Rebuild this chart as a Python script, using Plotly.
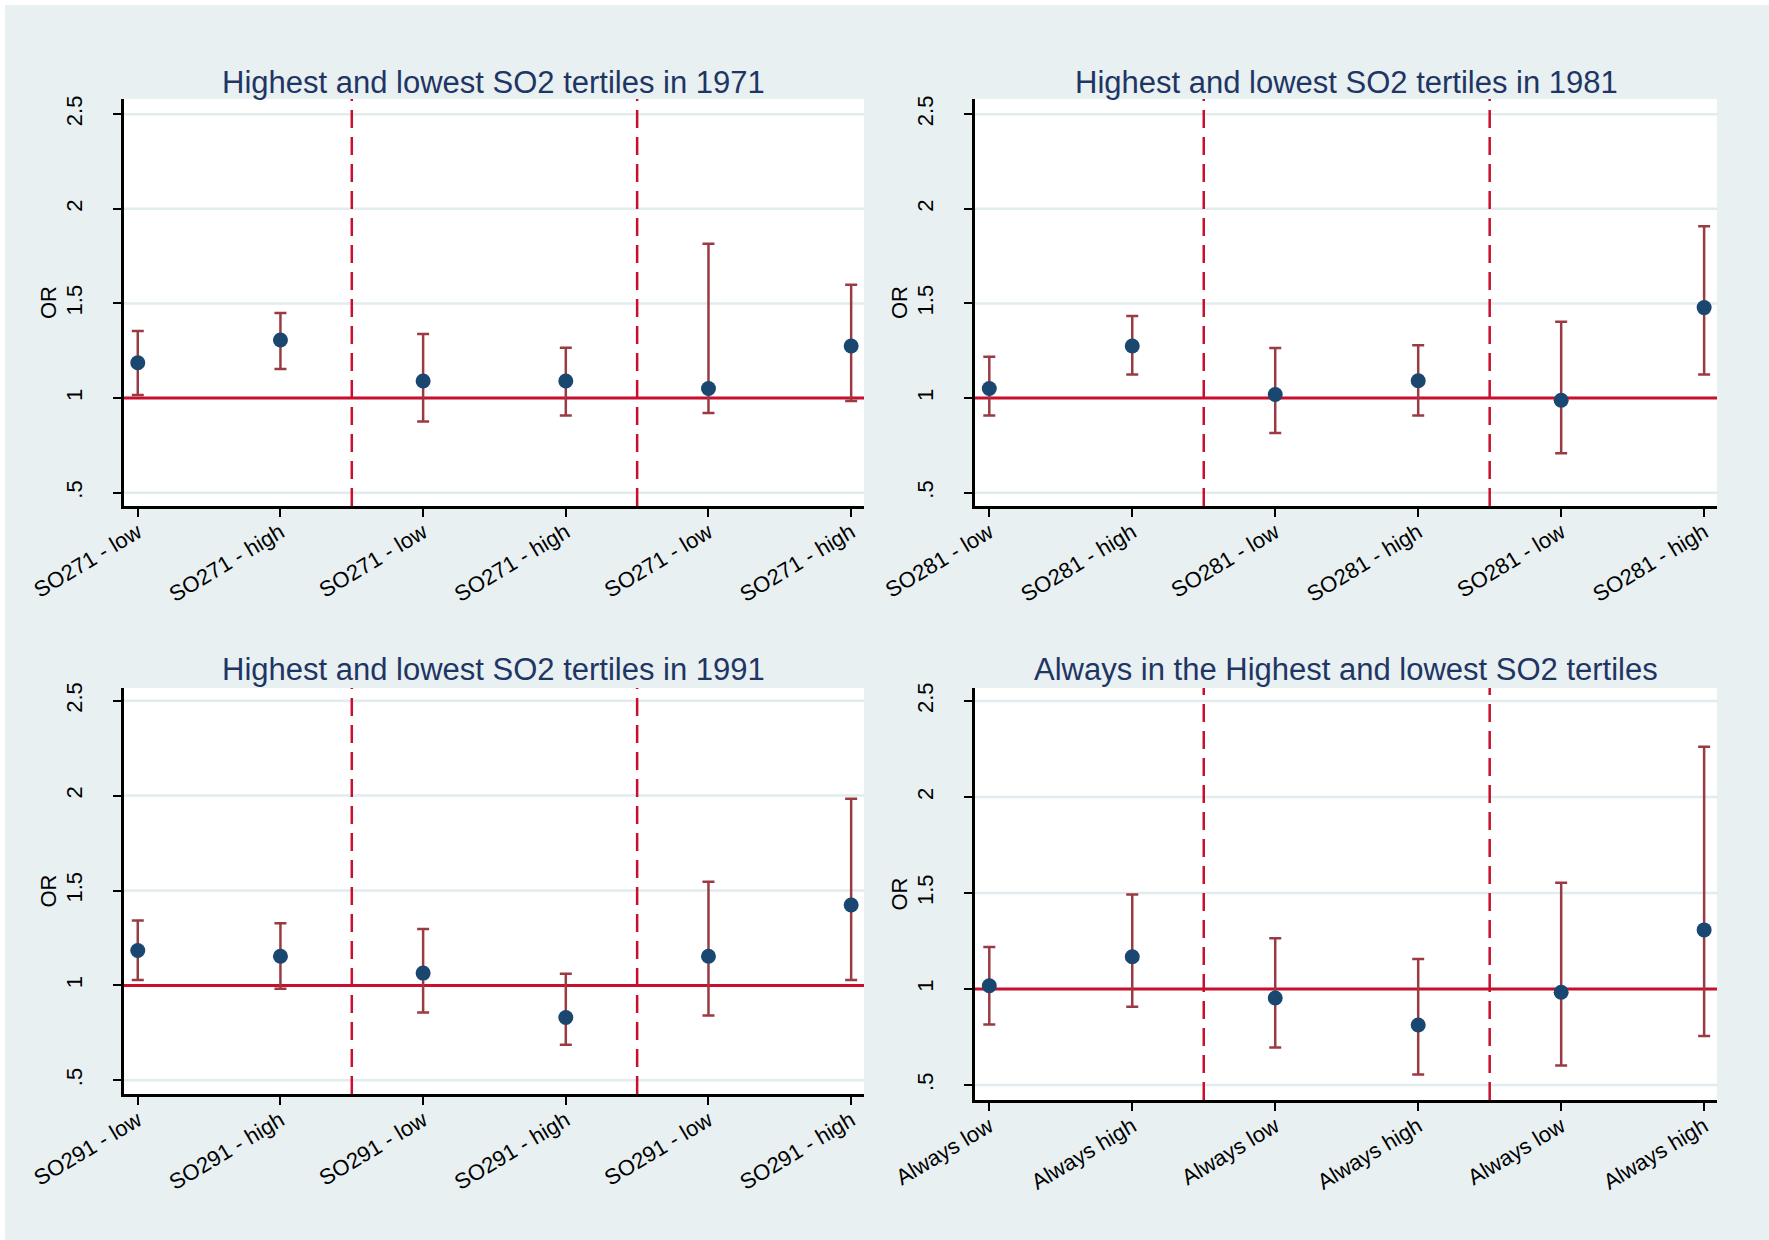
import plotly.graph_objects as go

W, H = 1769, 1240

# ---------------- data ----------------
positions = [1, 2, 3, 4, 5, 6]

labels_1971 = ["SO271 - low", "SO271 - high"] * 3
or_1971 = [1.187, 1.307, 1.090, 1.090, 1.051, 1.275]
lo_1971 = [1.017, 1.154, 0.876, 0.908, 0.921, 0.985]
hi_1971 = [1.354, 1.449, 1.339, 1.266, 1.816, 1.599]

labels_1981 = ["SO281 - low", "SO281 - high"] * 3
or_1981 = [1.051, 1.275, 1.019, 1.092, 0.989, 1.478]
lo_1981 = [0.908, 1.125, 0.815, 0.908, 0.708, 1.125]
hi_1981 = [1.219, 1.434, 1.264, 1.279, 1.403, 1.908]

labels_1991 = ["SO291 - low", "SO291 - high"] * 3
or_1991 = [1.184, 1.154, 1.065, 0.831, 1.154, 1.424]
lo_1991 = [1.029, 0.983, 0.857, 0.688, 0.842, 1.029]
hi_1991 = [1.342, 1.327, 1.297, 1.061, 1.546, 1.983]

labels_always = ["Always low", "Always high"] * 3
or_always = [1.017, 1.168, 0.953, 0.813, 0.983, 1.308]
lo_always = [0.815, 0.908, 0.695, 0.555, 0.602, 0.755]
hi_always = [1.219, 1.492, 1.264, 1.157, 1.553, 2.262]

titles = ["Highest and lowest SO2 tertiles in 1971",
          "Highest and lowest SO2 tertiles in 1981",
          "Highest and lowest SO2 tertiles in 1991",
          "Always in the Highest and lowest SO2 tertiles"]

y_tickvals = [0.5, 1, 1.5, 2, 2.5]
y_ticktext = [".5", "1", "1.5", "2", "2.5"]
separators = [2.5, 4.5]
reference_or = 1

# ---------------- style ----------------
BG = "#E8F0F2"
GRID = "#E2EBEE"
NAVY = "#1A476F"
MAROON = "#9A3B43"
CRIMSON = "#C8102E"
TITLE_C = "#1F3563"
FONT = "Liberation Sans, Arial, sans-serif"

# pixel geometry of each panel: (x0, x1, ytop, ybottom, yrange)
panels = [
    (123.5, 864, 99, 506, [0.43, 2.58]),
    (975, 1717, 99, 506, [0.43, 2.58]),
    (123.5, 864, 688, 1094, [0.428, 2.567]),
    (975, 1717, 688, 1100, [0.422, 2.568]),
]
title_y = [82, 82, 669, 669]

series = [
    (labels_1971, or_1971, lo_1971, hi_1971),
    (labels_1981, or_1981, lo_1981, hi_1981),
    (labels_1991, or_1991, lo_1991, hi_1991),
    (labels_always, or_always, lo_always, hi_always),
]

fig = go.Figure()
# thin white border on the top and left of the graph region
shapes = [
    dict(type="rect", xref="paper", yref="paper", x0=0, x1=1, y0=1 - 5 / H, y1=1,
         fillcolor="white", line=dict(width=0), layer="below"),
    dict(type="rect", xref="paper", yref="paper", x0=0, x1=5 / W, y0=0, y1=1,
         fillcolor="white", line=dict(width=0), layer="below"),
]
annotations = []

for i, ((labs, orv, lo, hi), (x0, x1, yt, yb, yr)) in enumerate(zip(series, panels)):
    n = "" if i == 0 else str(i + 1)
    xa, ya = "x" + n, "y" + n
    fig.add_trace(go.Scatter(
        x=positions, y=orv, mode="markers", xaxis=xa, yaxis=ya,
        marker=dict(color=NAVY, size=15),
        error_y=dict(type="data", symmetric=False,
                     array=[h - o for h, o in zip(hi, orv)],
                     arrayminus=[o - l for o, l in zip(orv, lo)],
                     color=MAROON, thickness=2.5, width=6),
        showlegend=False, hoverinfo="skip"))

    fig.layout["xaxis" + n] = dict(
        domain=[x0 / W, x1 / W], anchor=ya, range=[0.9, 6.09],
        tickvals=positions, ticktext=labs, tickangle=-31,
        showline=True, linecolor="black", linewidth=3,
        ticks="outside", ticklen=8, tickwidth=2, tickcolor="black",
        ticklabelstandoff=-6,
        tickfont=dict(family=FONT, size=22, color="black"),
        showgrid=False, zeroline=False, automargin=False)
    fig.layout["yaxis" + n] = dict(
        domain=[1 - yb / H, 1 - yt / H], anchor=xa, range=yr,
        tickvals=y_tickvals, ticktext=y_ticktext, tickangle=-90,
        showline=True, linecolor="black", linewidth=2.5,
        ticks="outside", ticklen=8, tickwidth=2, tickcolor="black",
        ticklabelstandoff=22,
        tickfont=dict(family=FONT, size=22, color="black"),
        showgrid=False, zeroline=False, automargin=False,
        title=dict(text="OR", font=dict(family=FONT, size=22, color="black"),
                   standoff=0))

    # light gridlines (drawn as shapes so the reference line sits above them)
    for v in y_tickvals:
        shapes.append(dict(type="line", xref=xa + " domain", yref=ya,
                           x0=0, x1=1, y0=v, y1=v,
                           line=dict(color=GRID, width=2.5), layer="below"))
    shapes.append(dict(type="line", xref=xa + " domain", yref=ya,
                       x0=0, x1=1, y0=reference_or, y1=reference_or,
                       line=dict(color=CRIMSON, width=3), layer="below"))
    for s in separators:
        shapes.append(dict(type="line", xref=xa, yref=ya + " domain",
                           x0=s, x1=s, y0=0, y1=1,
                           line=dict(color=CRIMSON, width=2.5, dash="18px,9px"),
                           layer="below"))
    annotations.append(dict(text=titles[i], xref="paper", yref="paper",
                            x=(x0 + x1) / 2 / W, y=1 - title_y[i] / H,
                            xanchor="center", yanchor="middle", showarrow=False,
                            font=dict(family=FONT, size=31, color=TITLE_C)))

fig.update_layout(width=W, height=H, autosize=False,
                  margin=dict(l=0, r=0, t=0, b=0, autoexpand=False),
                  paper_bgcolor=BG, plot_bgcolor="white",
                  shapes=shapes, annotations=annotations)

fig.write_html("out.html")
